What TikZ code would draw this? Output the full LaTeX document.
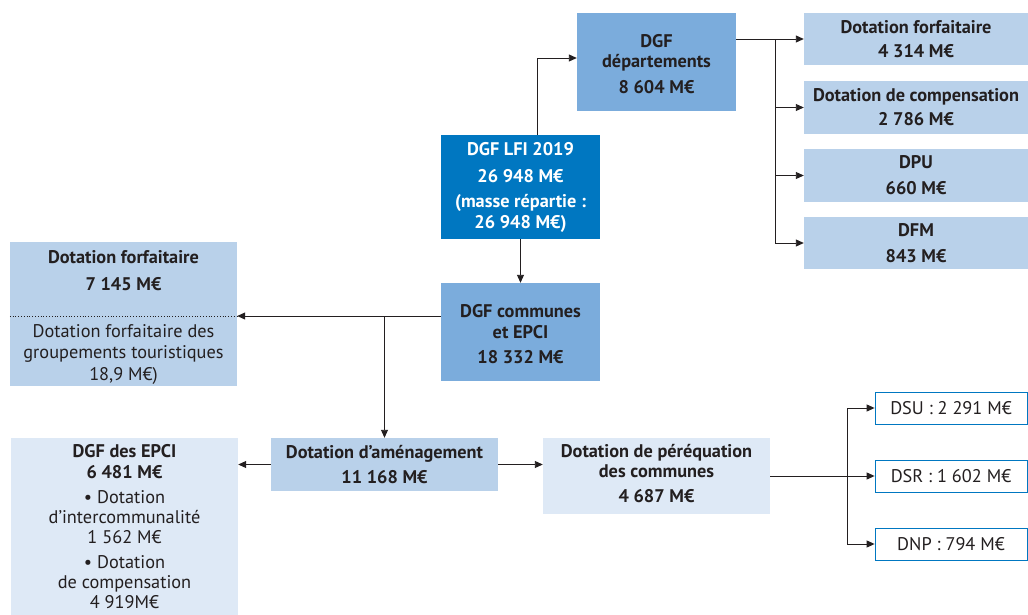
\documentclass[tikz,border=0pt]{standalone}
\usepackage{fontspec}
\setmainfont{PT Sans}
\usetikzlibrary{arrows.meta}
\definecolor{midblue}{HTML}{7BACDC}
\definecolor{darkblue}{HTML}{0077C1}
\definecolor{lightblue}{HTML}{B9D1EA}
\definecolor{paleblue}{HTML}{DEE9F6}
\definecolor{txt}{HTML}{231F20}
\tikzset{
  box/.style={rectangle, inner sep=0pt, align=center, text=txt},
  bfs/.style={font=\bfseries\fontsize{18.3}{20}\selectfont},
  rgs/.style={font=\fontsize{18.3}{20}\selectfont},
  arr/.style={draw=txt, line width=0.9pt, -{Triangle[length=8pt,width=7pt]}},
  ln/.style={draw=txt, line width=0.9pt},
  lbl/.style={inner sep=0pt, align=center, text=txt, anchor=base},
}
\begin{document}
\begin{tikzpicture}[x=1pt,y=-1pt]
\useasboundingbox[fill=white] (0,0) rectangle (1028,614);
% top
\node[box,bfs,fill=midblue,minimum width=159pt,minimum height=98pt] (dep) at (656.5,62) {};
\node[lbl,bfs] (dep1) at (656.5,47) {DGF};
\node[lbl,bfs] (dep2) at (656.5,67) {départements};
\node[lbl,bfs] (dep3) at (656.5,93) {8 604 M€};
\node[box,fill=darkblue,minimum width=159pt,minimum height=104pt] (lfi) at (520.5,187) {};
\node[lbl,bfs,text=white] (lfi1) at (520.5,155) {DGF LFI 2019};
\node[lbl,bfs,text=white] (lfi2) at (520.5,182) {26 948 M€};
\node[lbl,bfs,text=white] (lfi3) at (520.5,207) {(masse répartie :};
\node[lbl,bfs,text=white] (lfi4) at (520.5,228) {26 948 M€)};
% right column
\node[box,fill=lightblue,minimum width=224pt,minimum height=52pt] (r1) at (916,39) {};
\node[lbl,bfs] (r1a) at (916,33) {Dotation forfaitaire};
\node[lbl,bfs] (r1b) at (916,57) {4 314 M€};
\node[box,fill=lightblue,minimum width=224pt,minimum height=53pt] (r2) at (916,107.5) {};
\node[lbl,bfs] (r2a) at (916,101) {Dotation de compensation};
\node[lbl,bfs] (r2b) at (916,125) {2 786 M€};
\node[box,fill=lightblue,minimum width=224pt,minimum height=53pt] (r3) at (916,175.5) {};
\node[lbl,bfs] (r3a) at (916,168) {DPU};
\node[lbl,bfs] (r3b) at (916,194) {660 M€};
\node[box,fill=lightblue,minimum width=224pt,minimum height=52pt] (r4) at (916,243) {};
\node[lbl,bfs] (r4a) at (916,236) {DFM};
\node[lbl,bfs] (r4b) at (916,262) {843 M€};
% middle
\node[box,fill=midblue,minimum width=159pt,minimum height=98pt] (comm) at (520.5,332) {};
\node[lbl,bfs] (comm1) at (520.5,317) {DGF communes};
\node[lbl,bfs] (comm2) at (520.5,338) {et EPCI};
\node[lbl,bfs] (comm3) at (520.5,363) {18 332 M€};
\node[box,fill=lightblue,minimum width=227pt,minimum height=144pt] (fort) at (123.5,314) {};
\draw[txt, line width=0.8pt, dotted] (fort.west |- 0,316) -- (fort.east |- 0,316);
\node[lbl,bfs] (fortt1) at (123.5,263) {Dotation forfaitaire};
\node[lbl,bfs] (fortt2) at (123.5,290) {7 145 M€};
\node[lbl,rgs] (fortt3) at (123.5,337) {Dotation forfaitaire des};
\node[lbl,rgs] (fortt4) at (123.5,358) {groupements touristiques};
\node[lbl,rgs] (fortt5) at (123.5,380) {18,9 M€)};
% bottom
\node[box,fill=lightblue,minimum width=227pt,minimum height=53pt] (amen) at (384.5,464.5) {};
\node[lbl,bfs] (amen1) at (384.5,458) {Dotation d’aménagement};
\node[lbl,bfs] (amen2) at (384.5,483) {11 168 M€};
\node[box,fill=paleblue,minimum width=227pt,minimum height=180pt] (epci) at (124.5,528) {};
\node[lbl,bfs] (e1) at (124.5,457) {DGF des EPCI};
\node[lbl,bfs] (e2) at (124.5,478) {6 481 M€};
\node[lbl,rgs] (e3) at (124.5,503) {• Dotation};
\node[lbl,rgs] (e4) at (124.5,523) {d’intercommunalité};
\node[lbl,rgs] (e5) at (124.5,543) {1 562 M€};
\node[lbl,rgs] (e6) at (124.5,568) {• Dotation};
\node[lbl,rgs] (e7) at (124.5,588) {de compensation};
\node[lbl,rgs] (e8) at (124.5,608) {4 919M€};
\node[box,fill=paleblue,minimum width=227pt,minimum height=76pt] (pereq) at (656.5,476) {};
\node[lbl,bfs] (p1) at (656.5,457) {Dotation de péréquation};
\node[lbl,bfs] (p2) at (656.5,477) {des communes};
\node[lbl,bfs] (p3) at (656.5,502) {4 687 M€};
\node[box,rgs,fill=white,draw=darkblue,line width=0.8pt,minimum width=152pt,minimum height=32pt] (dsu) at (951,408) {DSU : 2 291 M€};
\node[box,rgs,fill=white,draw=darkblue,line width=0.8pt,minimum width=152pt,minimum height=32pt] (dsr) at (951,476) {DSR : 1 602 M€};
\node[box,rgs,fill=white,draw=darkblue,line width=0.8pt,minimum width=152pt,minimum height=32pt] (dnp) at (951,544) {DNP : 794 M€};
% connectors
\draw[arr] ([xshift=16.5pt]lfi.north) |- ([yshift=4pt]dep.west);
\draw[arr] (lfi.south) -- (comm.north);
\coordinate (t) at (775,39);
\draw[ln] (dep.east |- r1.west) -- (t);
\draw[arr] (t) -- (r1.west);
\draw[arr] (t) |- (r2.west);
\draw[arr] (t) |- (r3.west);
\draw[arr] (t) |- (r4.west);
\draw[arr] (comm.west |- 0,316) -- (fort.east |- 0,316);
\draw[arr] (amen.north |- 0,316) -- (amen.north);
\draw[arr] (amen.west) -- (amen.west -| epci.east);
\draw[arr] (amen.east) -- (amen.east -| pereq.west);
\coordinate (u) at (847,476);
\draw[arr] (pereq.east) -- (dsr.west);
\draw[arr] (u) |- (dsu.west);
\draw[arr] (u) |- (dnp.west);
\end{tikzpicture}
\end{document}
